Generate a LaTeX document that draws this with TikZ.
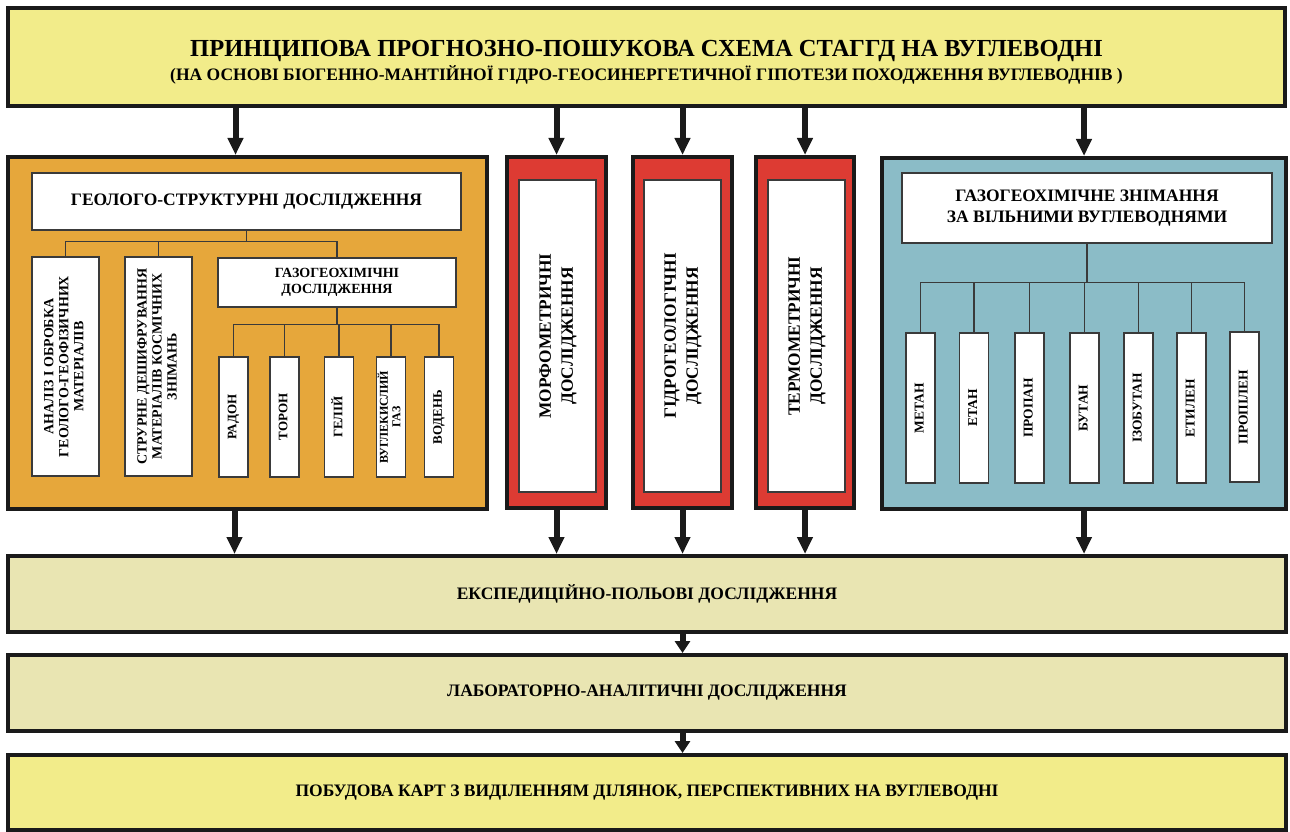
\documentclass[tikz,border=0pt]{standalone}
\usepackage{fontspec}
\setmainfont{Liberation Serif}
\usepackage{graphicx}
\usetikzlibrary{arrows.meta}

\definecolor{hdryellow}{HTML}{F2EC8A}
\definecolor{geoorange}{HTML}{E6A73B}
\definecolor{hydred}{HTML}{DD3B33}
\definecolor{gasblue}{HTML}{8BBCC7}
\definecolor{fieldbeige}{HTML}{E9E5B2}
\definecolor{edge}{HTML}{1A1A1A}
\definecolor{inedge}{HTML}{3A3A3A}

% rotated multi-line label
\newcommand{\vtext}[2][]{\rotatebox{90}{#1\begin{tabular}{@{}c@{}}#2\end{tabular}}}

\begin{document}
\begin{tikzpicture}[x=1pt, y=-1pt, thick,
	outer/.style = {draw=edge, line width=4pt, inner sep=0pt},
	inbox/.style = {draw=inedge, fill=white, line width=1.2pt, inner sep=0pt, align=center},
	link/.style = {draw=inedge, line width=1.2pt},
	flow/.style = {draw=edge, line width=6pt, -{Triangle[length=17pt,width=15pt]}},
	flowshort/.style = {draw=edge, line width=6pt, -{Triangle[length=12pt,width=15pt]}}]
	\useasboundingbox (0,0) rectangle (1290,832);
	% top and bottom rows
	\node[outer, fill=hdryellow, minimum width=1277pt, minimum height=98pt, align=center] (top) at (646.5,57)
		{{\bfseries\fontsize{24.5}{28}\selectfont\rule{0pt}{26pt}ПРИНЦИПОВА ПРОГНОЗНО-ПОШУКОВА СХЕМА СТАГГД НА ВУГЛЕВОДНІ}\\[3pt]
		 {\bfseries\fontsize{17.5}{20}\selectfont (НА ОСНОВІ БІОГЕННО-МАНТІЙНОЇ ГІДРО-ГЕОСИНЕРГЕТИЧНОЇ ГІПОТЕЗИ ПОХОДЖЕННЯ ВУГЛЕВОДНІВ )}};
	\node[outer, fill=fieldbeige, minimum width=1278pt, minimum height=76pt, font=\bfseries\fontsize{17.5}{20}\selectfont] (exp) at (647,594) {ЕКСПЕДИЦІЙНО-ПОЛЬОВІ ДОСЛІДЖЕННЯ};
	\node[outer, fill=fieldbeige, minimum width=1278pt, minimum height=76pt, font=\bfseries\fontsize{17.5}{20}\selectfont] (lab) at (647,693) {ЛАБОРАТОРНО-АНАЛІТИЧНІ ДОСЛІДЖЕННЯ};
	\node[outer, fill=hdryellow, minimum width=1278pt, minimum height=75pt, font=\bfseries\fontsize{17.5}{20}\selectfont] (fin) at (647,792.5) {ПОБУДОВА КАРТ З ВИДІЛЕННЯМ ДІЛЯНОК, ПЕРСПЕКТИВНИХ НА ВУГЛЕВОДНІ};
	% geological block
	\node[outer, fill=geoorange, minimum width=479pt, minimum height=352pt] (geo) at (247.5,333) {};
	\node[inbox, minimum width=429pt, minimum height=57pt, font=\bfseries\fontsize{17.5}{20}\selectfont] (geohead) at (246.5,201.5) {ГЕОЛОГО-СТРУКТУРНІ ДОСЛІДЖЕННЯ};
	\node[inbox, minimum width=67pt, minimum height=219pt, font=\bfseries\fontsize{14}{15}\selectfont] (analys) at (65.5,366.5)
		{\vtext{АНАЛІЗ І ОБРОБКА\\ГЕОЛОГО-ГЕОФІЗИЧНИХ\\МАТЕРІАЛІВ}};
	\node[inbox, minimum width=67pt, minimum height=219pt, font=\bfseries\fontsize{14}{15}\selectfont] (decode) at (158.5,366.5)
		{\vtext{СТРУРНЕ ДЕШИФРУВАННЯ\\МАТЕРІАЛІВ КОСМІЧНИХ\\ЗНІМАНЬ}};
	\node[inbox, minimum width=238pt, minimum height=49pt, font=\bfseries\fontsize{14}{16.5}\selectfont] (gaz) at (337,282.5) {ГАЗОГЕОХІМІЧНІ\\ДОСЛІДЖЕННЯ};
	\node[inbox, minimum width=29pt, minimum height=120pt, font=\bfseries\fontsize{13}{14}\selectfont] (radon) at (233.5,417) {\vtext{РАДОН}};
	\node[inbox, minimum width=29pt, minimum height=120pt, font=\bfseries\fontsize{13}{14}\selectfont] (thoron) at (284.5,417) {\vtext{ТОРОН}};
	\node[inbox, minimum width=29pt, minimum height=120pt, font=\bfseries\fontsize{13}{14}\selectfont] (helium) at (339,417) {\vtext{ГЕЛІЙ}};
	\node[inbox, minimum width=29pt, minimum height=120pt, font=\bfseries\fontsize{12}{12.5}\selectfont] (carbon) at (391,417) {\vtext{ВУГЛЕКИСЛИЙ\\ГАЗ}};
	\node[inbox, minimum width=29pt, minimum height=120pt, font=\bfseries\fontsize{13}{14}\selectfont] (hydrogen) at (439,417) {\vtext{ВОДЕНЬ}};
	\draw[link] (geohead.south) -- ++(0,11) coordinate (gbar);
	\draw[link] (gbar) -| (analys.north);
	\draw[link] (gbar) -| (decode.north);
	\draw[link] (gbar) -| (gaz.north);
	\draw[link] (gaz.south) -- ++(0,17) coordinate (zbar);
	\draw[link] (zbar) -| (radon.north);
	\draw[link] (zbar) -| (thoron.north);
	\draw[link] (zbar) -| (helium.north);
	\draw[link] (zbar) -| (carbon.north);
	\draw[link] (zbar) -| (hydrogen.north);
	% red columns
	\node[outer, fill=hydred, minimum width=99pt, minimum height=351pt] (morph) at (556.5,332.5) {};
	\node[inbox, minimum width=77pt, minimum height=312pt, font=\bfseries\fontsize{17.3}{22}\selectfont] (morphin) at (557.5,336) {\vtext{МОРФОМЕТРИЧНІ\\ДОСЛІДЖЕННЯ}};
	\node[outer, fill=hydred, minimum width=99pt, minimum height=351pt] (hydro) at (682.5,332.5) {};
	\node[inbox, minimum width=77pt, minimum height=312pt, font=\bfseries\fontsize{17.3}{22}\selectfont] (hydroin) at (682.5,336) {\vtext{ГІДРОГЕОЛОГІЧНІ\\ДОСЛІДЖЕННЯ}};
	\node[outer, fill=hydred, minimum width=98pt, minimum height=351pt] (thermo) at (805,332.5) {};
	\node[inbox, minimum width=77pt, minimum height=312pt, font=\bfseries\fontsize{17.3}{22}\selectfont] (thermoin) at (806.5,336) {\vtext{ТЕРМОМЕТРИЧНІ\\ДОСЛІДЖЕННЯ}};
	% gas survey block
	\node[outer, fill=gasblue, minimum width=404pt, minimum height=351pt] (gas) at (1084,333.5) {};
	\node[inbox, minimum width=370pt, minimum height=70pt, font=\bfseries\fontsize{17.5}{21}\selectfont] (gashead) at (1087,208) {ГАЗОГЕОХІМІЧНЕ ЗНІМАННЯ\\ЗА ВІЛЬНИМИ ВУГЛЕВОДНЯМИ};
	\node[inbox, minimum width=29pt, minimum height=150pt, font=\bfseries\fontsize{13.5}{15}\selectfont] (methane) at (920.5,408) {\vtext{МЕТАН}};
	\node[inbox, minimum width=29pt, minimum height=150pt, font=\bfseries\fontsize{13.5}{15}\selectfont] (ethane) at (974,408) {\vtext{ЕТАН}};
	\node[inbox, minimum width=29pt, minimum height=150pt, font=\bfseries\fontsize{13.5}{15}\selectfont] (propane) at (1029.5,408) {\vtext{ПРОПАН}};
	\node[inbox, minimum width=29pt, minimum height=150pt, font=\bfseries\fontsize{13.5}{15}\selectfont] (butane) at (1084.5,408) {\vtext{БУТАН}};
	\node[inbox, minimum width=29pt, minimum height=150pt, font=\bfseries\fontsize{13.5}{15}\selectfont] (isobutane) at (1138.5,408) {\vtext{ІЗОБУТАН}};
	\node[inbox, minimum width=29pt, minimum height=150pt, font=\bfseries\fontsize{13.5}{15}\selectfont] (ethylene) at (1191.5,408) {\vtext{ЕТИЛЕН}};
	\node[inbox, minimum width=29pt, minimum height=150pt, font=\bfseries\fontsize{13.5}{15}\selectfont] (propylene) at (1244.5,407) {\vtext{ПРОПІЛЕН}};
	\draw[link] (gashead.south) -- ++(0,39) coordinate (bbar);
	\draw[link] (bbar) -| (methane.north);
	\draw[link] (bbar) -| (ethane.north);
	\draw[link] (bbar) -| (propane.north);
	\draw[link] (bbar) -| (butane.north);
	\draw[link] (bbar) -| (isobutane.north);
	\draw[link] (bbar) -| (ethylene.north);
	\draw[link] (bbar) -| (propylene.north);
	% main arrows
	\draw[flow] ([xshift=-12pt]geo.north |- top.south) -- ([xshift=-12pt]geo.north);
	\draw[flow] (morph.north |- top.south) -- (morph.north);
	\draw[flow] (hydro.north |- top.south) -- (hydro.north);
	\draw[flow] (thermo.north |- top.south) -- (thermo.north);
	\draw[flow] (gas.north |- top.south) -- (gas.north);
	\draw[flow] ([xshift=-13pt]geo.south) -- ([xshift=-13pt]geo.south |- exp.north);
	\draw[flow] (morph.south) -- (morph.south |- exp.north);
	\draw[flow] (hydro.south) -- (hydro.south |- exp.north);
	\draw[flow] (thermo.south) -- (thermo.south |- exp.north);
	\draw[flow] (gas.south) -- (gas.south |- exp.north);
	\draw[flowshort] (exp.south -| hydro) -- (lab.north -| hydro);
	\draw[flowshort] (lab.south -| hydro) -- (fin.north -| hydro);
\end{tikzpicture}
\end{document}
